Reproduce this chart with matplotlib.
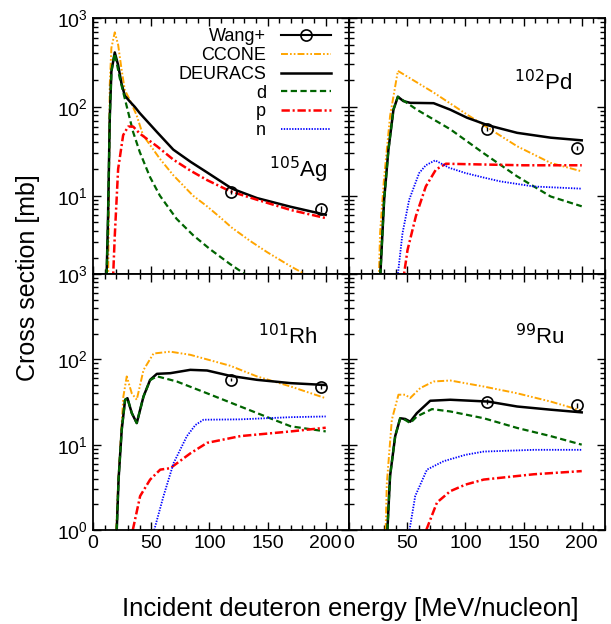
import matplotlib
matplotlib.use("Agg")
import matplotlib.pyplot as plt
from matplotlib.lines import Line2D
from matplotlib.ticker import MultipleLocator, LogLocator

plt.rcParams['font.family'] = ['Liberation Sans', 'DejaVu Sans']
plt.rcParams['lines.scale_dashes'] = False

# measured points (Wang+), same energies for all four nuclides
wang_e = [119, 196]

# ---- 105Ag (top left) ----
ag_ccone_e = [13.0, 14.4, 15.8, 18.7, 21.6, 24.4, 27.3, 31.6, 37.4, 43.0, 57.5, 69.0, 86.0, 98.0, 110.0, 119.0, 135.0, 150.0, 170.0, 185.0]
ag_ccone = [1.0, 177, 460, 690, 500, 272, 155, 120, 81, 48, 26, 17, 10, 7.6, 5.6, 4.4, 3.1, 2.3, 1.6, 1.25]
ag_deuracs_e = [11.5, 12.9, 14.4, 15.8, 18.7, 21.6, 24.4, 27.3, 31.6, 35.9, 40.2, 55.0, 69.0, 84.0, 98.0, 119.5, 141.0, 170.0, 200.0]
ag_deuracs = [1.0, 5.5, 74, 250, 410, 295, 185, 134, 115, 100, 85, 52, 33, 24, 18.3, 12.0, 9.4, 7.5, 6.1]
ag_d_e = [11.5, 12.9, 14.4, 15.8, 18.7, 23.0, 28.7, 34.5, 40.2, 48.9, 57.5, 71.8, 86.0, 100.6, 117.8, 131.0, 136.0]
ag_d = [1.0, 5.5, 74, 250, 400, 210, 105, 52, 31, 16.3, 10, 5.5, 3.6, 2.5, 1.7, 1.3, 1.2]
ag_p_e = [17.0, 18.7, 21.6, 25.9, 30.2, 34.5, 40.2, 55.0, 69.0, 83.6, 98.0, 118.0, 141.0, 170.0, 200.0]
ag_p = [1.0, 3.5, 20, 48, 60, 60, 50, 36, 25.5, 19.2, 15, 11.2, 9.0, 6.9, 5.6]
ag_n_e = [60.0, 200.0]
ag_n = [0.5, 0.9]
ag_wang = [11.1, 7.1]
ag_wang_err = [0.6, 0.5]

# ---- 102Pd (top right) ----
pd_ccone_e = [25.5, 26.7, 30.0, 35.3, 42.0, 72.7, 101.4, 119.5, 144.5, 173.3, 200.0]
pd_ccone = [1.0, 3.8, 15, 79, 254, 145, 82, 58, 36, 23.4, 18.8]
pd_deuracs_e = [26.5, 30.2, 33.9, 38.2, 42.0, 46.8, 52.6, 72.7, 87.0, 101.4, 119.5, 144.5, 173.3, 200.0]
pd_deuracs = [1.0, 9, 33, 93, 130, 116, 111, 110, 93, 75.5, 62, 51, 45, 42]
pd_d_e = [26.5, 30.2, 33.9, 38.2, 42.0, 58.3, 87.0, 115.8, 144.5, 173.3, 200.0]
pd_d = [1.0, 9, 33, 93, 130, 93, 56, 30, 16.5, 9.8, 7.6]
pd_p_e = [46.0, 50.3, 57.5, 66.0, 74.7, 83.3, 112.0, 150.0, 200.0]
pd_p = [1.0, 2.45, 5.9, 12.7, 19.7, 22.9, 22.5, 22, 22]
pd_n_e = [41.0, 46.0, 51.7, 60.3, 66.0, 74.0, 86.2, 100.0, 115.8, 130.0, 158.9, 200.0]
pd_n = [1.0, 3.8, 9.0, 18, 22, 25, 20.6, 18, 16, 14.5, 12.7, 12]
pd_wang = [56.6, 34.6]
pd_wang_err = [3.0, 2.0]

# ---- 101Rh (bottom left) ----
rh_ccone_e = [20.0, 21.8, 26.1, 29.0, 33.3, 37.6, 43.4, 52.0, 66.4, 83.6, 118.0, 141.0, 170.0, 200.0]
rh_ccone = [1.0, 3.9, 36.7, 63, 40, 33.6, 75, 117, 123, 113, 84, 63, 48, 35]
rh_deuracs_e = [20.4, 22.0, 24.7, 27.6, 29.6, 33.3, 37.6, 43.4, 49.1, 54.9, 66.4, 83.6, 98.0, 118.0, 141.0, 170.0, 200.0]
rh_deuracs = [1.0, 4, 15, 33.6, 35, 23.5, 17.9, 36.7, 57.5, 67.6, 68.8, 75.3, 74, 64, 57.5, 52.6, 50]
rh_d_e = [20.4, 22.0, 24.7, 27.6, 29.6, 33.3, 37.6, 43.4, 49.1, 54.9, 72.0, 98.0, 126.7, 155.4, 170.0, 200.0]
rh_d = [1.0, 4, 15, 33.6, 35, 23.5, 17.9, 36.7, 57, 63.3, 55, 40, 28, 19.6, 16.4, 14.3]
rh_p_e = [34.2, 40.5, 49.1, 57.8, 66.4, 83.6, 98.0, 126.7, 170.0, 200.0]
rh_p = [1.0, 2.5, 3.9, 5.1, 5.3, 7.9, 10.5, 12.6, 14.3, 15.8]
rh_n_e = [52.6, 60.6, 69.3, 80.7, 88.0, 95.0, 126.7, 170.0, 200.0]
rh_n = [1.0, 2.5, 6.1, 12.6, 17, 19.6, 19.8, 21, 21.4]
rh_wang = [58.0, 48.0]
rh_wang_err = [3.0, 3.0]

# ---- 99Ru (bottom right) ----
ru_ccone_e = [31.5, 32.5, 36.8, 42.5, 48.3, 52.6, 61.2, 72.7, 87.0, 115.8, 144.5, 173.3, 200.0]
ru_ccone = [1.0, 3.5, 19.6, 38.5, 38.5, 35.2, 46, 55, 56.5, 48, 40, 32, 25]
ru_deuracs_e = [33.0, 35.3, 39.7, 44.0, 48.3, 52.6, 58.3, 69.8, 87.0, 119.5, 144.5, 173.3, 200.0]
ru_deuracs = [1.0, 4.3, 12.6, 20.4, 20, 18.6, 23.4, 32.7, 33.6, 32, 28, 25.7, 23.9]
ru_d_e = [33.0, 35.3, 39.7, 44.0, 48.3, 52.6, 58.3, 71.3, 87.0, 115.8, 144.5, 173.3, 200.0]
ru_d = [1.0, 4.3, 12.6, 20.4, 19.5, 17.9, 21.4, 26.1, 24.5, 20.4, 15.7, 12.6, 10]
ru_p_e = [66.4, 75.6, 87.0, 100.0, 115.8, 158.9, 200.0]
ru_p = [1.0, 2.1, 2.85, 3.4, 3.9, 4.5, 4.9]
ru_n_e = [52.0, 56.9, 67.0, 81.3, 100.0, 115.8, 158.9, 200.0]
ru_n = [1.0, 2.5, 5.1, 6.4, 7.6, 8.3, 8.7, 8.7]
ru_wang = [32.0, 29.0]
ru_wang_err = [2.0, 2.0]

panels = [
    (r"$^{105}$Ag", ag_ccone_e, ag_ccone, ag_deuracs_e, ag_deuracs, ag_d_e, ag_d, ag_p_e, ag_p, ag_n_e, ag_n, ag_wang, ag_wang_err),
    (r"$^{102}$Pd", pd_ccone_e, pd_ccone, pd_deuracs_e, pd_deuracs, pd_d_e, pd_d, pd_p_e, pd_p, pd_n_e, pd_n, pd_wang, pd_wang_err),
    (r"$^{101}$Rh", rh_ccone_e, rh_ccone, rh_deuracs_e, rh_deuracs, rh_d_e, rh_d, rh_p_e, rh_p, rh_n_e, rh_n, rh_wang, rh_wang_err),
    (r"$^{99}$Ru", ru_ccone_e, ru_ccone, ru_deuracs_e, ru_deuracs, ru_d_e, ru_d, ru_p_e, ru_p, ru_n_e, ru_n, ru_wang, ru_wang_err),
]

# label positions (right edge, vertical centre) in axes coords
label_pos = [(0.914, 0.405), (0.874, 0.749), (0.878, 0.755), (0.844, 0.755)]

fig = plt.figure(figsize=(6.11, 6.24), dpi=100)
W = 256 / 611
H = 256 / 624
boxes = [
    (93 / 611, 1 - 274 / 624, W, H),
    (349 / 611, 1 - 274 / 624, W, H),
    (93 / 611, 1 - 530 / 624, W, H),
    (349 / 611, 1 - 530 / 624, W, H),
]

c_orange = '#FFA500'
c_green = '#006400'
c_red = '#FF0000'
c_blue = '#0000FF'

axes = []
for i, (name, ce, cv, de, dv, he, hv, pe, pv, ne, nv, wv, werr) in enumerate(panels):
    ax = fig.add_axes(boxes[i])
    axes.append(ax)
    ax.plot(ce, cv, color=c_orange, lw=1.4, ls=(0, (5, 1.5, 1.2, 1.5, 1.2, 1.5)), label='CCONE')
    ax.plot(de, dv, color='black', lw=1.8, label='DEURACS')
    ax.plot(he, hv, color=c_green, lw=1.6, ls=(0, (4.5, 2.5)), label='d')
    ax.plot(pe, pv, color=c_red, lw=1.8, ls=(0, (6, 2, 1.5, 2)), label='p')
    ax.plot(ne, nv, color=c_blue, lw=1.3, ls=(0, (1, 1)), label='n')
    ax.errorbar(wang_e, wv, yerr=werr, fmt='o', mfc='none', mec='black', ecolor='black',
                ms=8, mew=1.2, elinewidth=1.0, capsize=0, zorder=5)

    ax.set_yscale('log')
    ax.set_xlim(0, 220)
    if i < 2:
        ax.set_ylim(1.315, 1000)
    else:
        ax.set_ylim(1, 1000)
    ax.xaxis.set_major_locator(MultipleLocator(50))
    ax.xaxis.set_minor_locator(MultipleLocator(10))
    ax.yaxis.set_major_locator(LogLocator(base=10, numticks=10))
    ax.yaxis.set_minor_locator(LogLocator(base=10, subs=range(2, 10), numticks=20))
    ax.tick_params(which='both', direction='in', top=True, right=True, labelsize=14, width=1.0)
    ax.tick_params(which='major', length=6)
    ax.tick_params(which='minor', length=3.5)
    if i < 2:
        ax.tick_params(labelbottom=False)
    if i % 2 == 1:
        ax.tick_params(labelleft=False)
    for s in ax.spines.values():
        s.set_linewidth(1.3)

    ax.text(label_pos[i][0], label_pos[i][1], name, transform=ax.transAxes,
            ha='right', va='center', fontsize=16)

# legend in the first panel, text on the left of the sample
wang_handle = Line2D([], [], color='black', lw=1.5, marker='o', mfc='none', mec='black', ms=8, mew=1.2)
h, l = axes[0].get_legend_handles_labels()
axes[0].legend([wang_handle] + h, ['Wang+'] + l, loc='upper right', bbox_to_anchor=(0.93, 0.96),
               markerfirst=False, frameon=False, fontsize=13, handlelength=2.8, handletextpad=0.8,
               labelspacing=0.1, borderpad=0, borderaxespad=0, numpoints=1)

fig.text(350 / 611, 1 - 609 / 624, 'Incident deuteron energy [MeV/nucleon]', ha='center', va='center', fontsize=18.5)
fig.text(28 / 611, 1 - 278 / 624, 'Cross section [mb]', ha='center', va='center', rotation=90, fontsize=18)

fig.savefig('out.png', dpi=100)
